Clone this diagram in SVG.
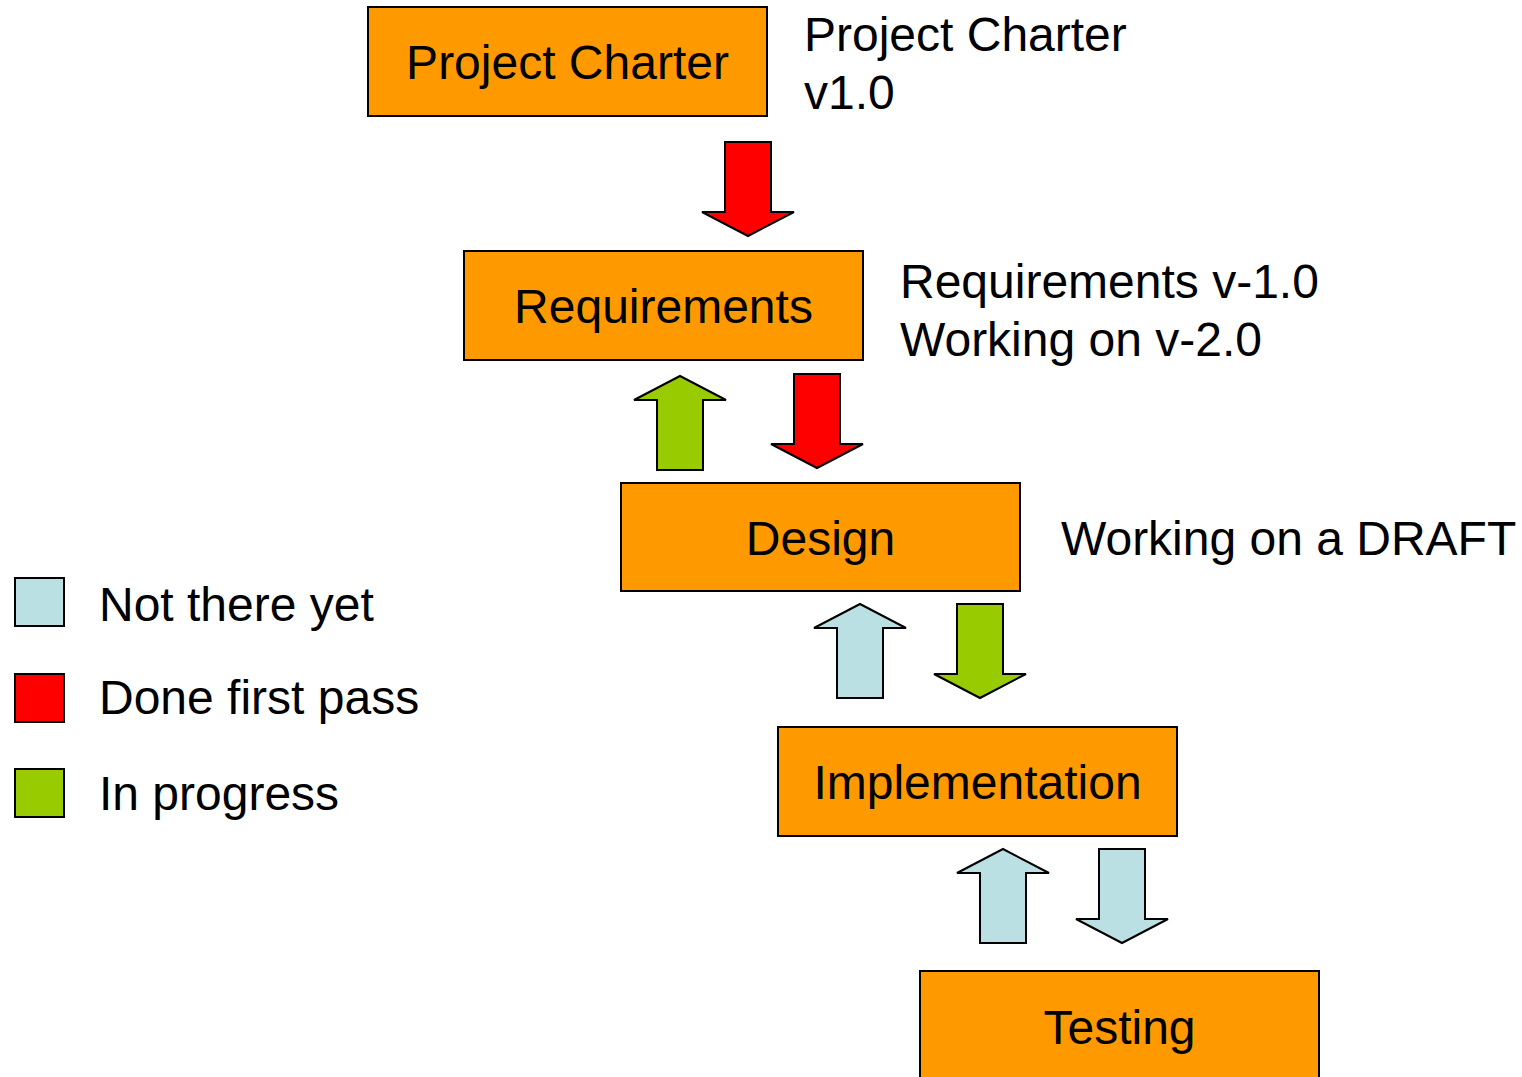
<svg xmlns="http://www.w3.org/2000/svg" width="1522" height="1077" viewBox="0 0 1522 1077">
<style>
.box{fill:#FF9900;stroke:#000;stroke-width:2}
.t{font-family:"Liberation Sans",Arial,sans-serif;font-size:48px;fill:#000}
.c{text-anchor:middle}
.red{fill:#FF0000;stroke:#000;stroke-width:2;stroke-linejoin:miter}
.grn{fill:#99CC00;stroke:#000;stroke-width:2}
.blu{fill:#BBE0E3;stroke:#000;stroke-width:2}
</style>
<defs>
<path id="down" d="M-23,-47 L23,-47 L23,23 L46,23 L0,47 L-46,23 L-23,23 Z"/>
<path id="up" d="M-23,47 L23,47 L23,-23 L46,-23 L0,-47 L-46,-23 L-23,-23 Z"/>
</defs>
<g id="node-charter">
<rect class="box" x="368" y="7" width="399" height="109"/>
<text class="t c" x="567.5" y="79">Project Charter</text>
</g>
<g id="note-charter">
<text class="t" x="804" y="51">Project Charter</text>
<text class="t" x="804" y="109">v1.0</text>
</g>
<g id="node-requirements">
<rect class="box" x="464" y="251" width="399" height="109"/>
<text class="t c" x="663.5" y="323">Requirements</text>
</g>
<g id="note-requirements">
<text class="t" x="900" y="298">Requirements v-1.0</text>
<text class="t" x="900" y="356">Working on v-2.0</text>
</g>
<g id="node-design">
<rect class="box" x="621" y="483" width="399" height="108"/>
<text class="t c" x="820.5" y="555">Design</text>
</g>
<g id="note-design">
<text class="t" x="1061" y="555">Working on a DRAFT</text>
</g>
<g id="node-implementation">
<rect class="box" x="778" y="727" width="399" height="109"/>
<text class="t c" x="977.5" y="799">Implementation</text>
</g>
<g id="node-testing">
<rect class="box" x="920" y="971" width="399" height="112"/>
<text class="t c" x="1119.5" y="1044">Testing</text>
</g>
<g id="connectors">
<use href="#down" class="red" x="748" y="189"/>
<use href="#up" class="grn" x="680" y="423"/>
<use href="#down" class="red" x="817" y="421"/>
<use href="#up" class="blu" x="860" y="651"/>
<use href="#down" class="grn" x="980" y="651"/>
<use href="#up" class="blu" x="1003" y="896"/>
<use href="#down" class="blu" x="1122" y="896"/>
</g>
<g id="legend">
<rect class="blu" x="15" y="578" width="49" height="48"/>
<text class="t" x="99" y="621">Not there yet</text>
<rect class="red" x="15" y="674" width="49" height="48"/>
<text class="t" x="99" y="714">Done first pass</text>
<rect class="grn" x="15" y="769" width="49" height="48"/>
<text class="t" x="99" y="810">In progress</text>
</g>
</svg>
